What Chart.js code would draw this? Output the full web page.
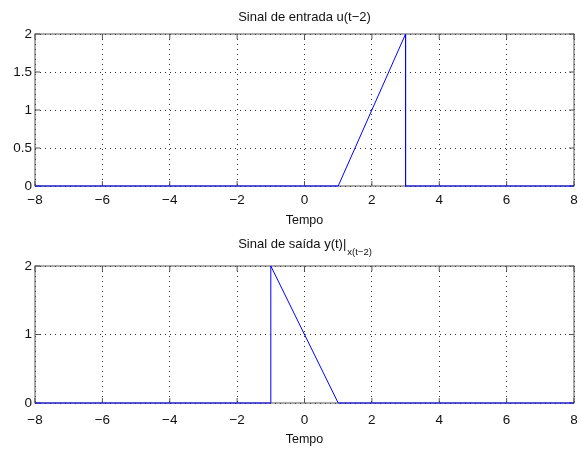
<!DOCTYPE html>
<html>
<head>
<meta charset="utf-8">
<script src="https://cdn.jsdelivr.net/npm/chart.js@4/dist/chart.umd.min.js"></script>
<style>
    body { margin: 0; background: #fff; }
    #top { position: absolute; left: 0; top: 0; width: 583px; height: 228px; }
    #bottom { position: absolute; left: 0; top: 228px; width: 583px; height: 222px; }
</style>
</head>
<body>
<div id="top"><canvas id="chart-in"></canvas></div>
<div id="bottom"><canvas id="chart-out"></canvas></div>
<script>
// Signal data
const tempoIn = [-8, 1, 3, 3, 8];
const entrada = [0, 0, 2, 0, 0];
const tempoOut = [-8, -1, -1, 1, 8];
const saida = [0, 0, 2, 0, 0];

// Axis ticks
const xTicks = [-8, -6, -4, -2, 0, 2, 4, 6, 8];
const yTicksIn = [0, 0.5, 1, 1.5, 2];
const yTicksOut = [0, 1, 2];

const family = '"Liberation Sans", Arial, Helvetica, sans-serif';
Chart.defaults.font.family = family;
Chart.defaults.color = '#111';

const fmt = v => String(v).replace('-', '\u2212');

// MATLAB-like box with inward ticks
const boxPlugin = {
    id: 'matlabBox',
    beforeDatasetsDraw(chart) {
        const { ctx, chartArea: a, scales: { x, y } } = chart;
        ctx.save();
        ctx.strokeStyle = '#555';
        ctx.lineWidth = 1;
        ctx.strokeRect(a.left, a.top, a.right - a.left, a.bottom - a.top);
        ctx.beginPath();
        x.ticks.forEach(t => {
            const px = x.getPixelForValue(t.value);
            ctx.moveTo(px, a.top); ctx.lineTo(px, a.top + 5);
            ctx.moveTo(px, a.bottom); ctx.lineTo(px, a.bottom - 5);
        });
        y.ticks.forEach(t => {
            const py = y.getPixelForValue(t.value);
            ctx.moveTo(a.left, py); ctx.lineTo(a.left + 5, py);
            ctx.moveTo(a.right, py); ctx.lineTo(a.right - 5, py);
        });
        ctx.stroke();
        ctx.restore();
    }
};

// Title with optional subscript
const titlePlugin = {
    id: 'axTitle',
    afterDraw(chart, args, opts) {
        const { ctx, chartArea: a } = chart;
        const mainFont = '13px ' + family;
        const subFont = '9.5px ' + family;
        ctx.save();
        ctx.fillStyle = '#111';
        ctx.textBaseline = 'alphabetic';
        ctx.textAlign = 'left';
        ctx.font = mainFont;
        const w1 = ctx.measureText(opts.text).width;
        let w2 = 0;
        if (opts.sub) {
            ctx.font = subFont;
            w2 = ctx.measureText(opts.sub).width;
        }
        const x0 = (a.left + a.right) / 2 - (w1 + w2) / 2;
        ctx.font = mainFont;
        ctx.fillText(opts.text, x0, opts.y);
        if (opts.sub) {
            ctx.font = subFont;
            ctx.fillText(opts.sub, x0 + w1 + 1, opts.y + 7);
        }
        ctx.restore();
    }
};

function makeChart(id, tempo, values, yTicks, cfg) {
    const ctx = document.getElementById(id).getContext('2d');
    return new Chart(ctx, {
        type: 'scatter',
        data: {
            datasets: [{
                data: tempo.map((t, i) => ({ x: t, y: values[i] })),
                showLine: true,
                borderColor: '#0000ff',
                borderWidth: 1,
                pointRadius: 0,
                tension: 0,
                clip: false
            }]
        },
        options: {
            responsive: true,
            maintainAspectRatio: false,
            animation: false,
            layout: { padding: { top: cfg.padTop, right: 9, left: 0, bottom: 0 } },
            plugins: {
                legend: { display: false },
                tooltip: { enabled: false },
                axTitle: { text: cfg.title, sub: cfg.sub, y: cfg.titleY }
            },
            scales: {
                x: {
                    type: 'linear',
                    min: -8,
                    max: 8,
                    afterBuildTicks: s => { s.ticks = xTicks.map(v => ({ value: v })); },
                    afterFit: s => {
                        s.height = cfg.xHeight;
                        s.paddingLeft = 0;
                        s.paddingRight = 0;
                    },
                    ticks: { callback: fmt, padding: cfg.xPad, font: { size: 13.5 }, maxRotation: 0 },
                    grid: { color: '#333', lineWidth: 1, drawTicks: false },
                    border: { display: false, dash: [1, 4] },
                    title: { display: true, text: 'Tempo', font: { size: 12.5 }, padding: { top: 0, bottom: cfg.tempoPad } }
                },
                y: {
                    type: 'linear',
                    min: 0,
                    max: 2,
                    afterBuildTicks: s => { s.ticks = yTicks.map(v => ({ value: v })); },
                    afterFit: s => { s.width = 35; },
                    ticks: { callback: fmt, padding: 3, font: { size: 13.5 } },
                    grid: { color: '#333', lineWidth: 1, drawTicks: false },
                    border: { display: false, dash: [1, 4] }
                }
            }
        },
        plugins: [boxPlugin, titlePlugin]
    });
}

makeChart('chart-in', tempoIn, entrada, yTicksIn, {
    title: 'Sinal de entrada u(t\u22122)', sub: '', titleY: 21,
    padTop: 34, xHeight: 42, xPad: 6, tempoPad: 0
});

makeChart('chart-out', tempoOut, saida, yTicksOut, {
    title: 'Sinal de saída y(t)|', sub: 'x(t\u22122)', titleY: 20,
    padTop: 38, xHeight: 47, xPad: 9, tempoPad: 3
});
</script>
</body>
</html>
